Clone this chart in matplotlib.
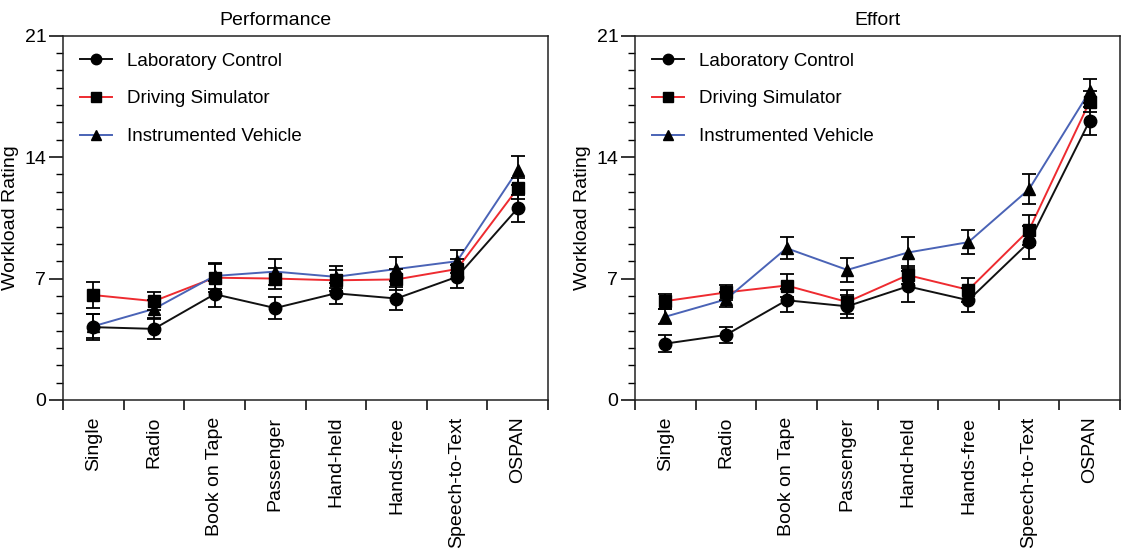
import matplotlib
matplotlib.use("Agg")
import matplotlib.pyplot as plt
import numpy as np

plt.rcParams['font.family'] = ['Liberation Sans', 'DejaVu Sans']

categories = ["Single", "Radio", "Book on Tape", "Passenger", "Hand-held",
              "Hands-free", "Speech-to-Text", "OSPAN"]
series_names = ["Laboratory Control", "Driving Simulator", "Instrumented Vehicle"]

# Performance panel
perf_lab = [4.2, 4.1, 6.1, 5.3, 6.15, 5.85, 7.1, 11.05]
perf_lab_err = [0.77, 0.58, 0.75, 0.63, 0.6, 0.67, 0.67, 0.77]
perf_sim = [6.05, 5.7, 7.05, 7.0, 6.9, 6.95, 7.55, 12.2]
perf_sim_err = [0.73, 0.5, 0.8, 0.63, 0.6, 0.6, 0.6, 0.6]
perf_veh = [4.25, 5.25, 7.15, 7.4, 7.1, 7.55, 8.0, 13.25]
perf_veh_err = [0.7, 0.5, 0.75, 0.75, 0.65, 0.67, 0.67, 0.83]

# Effort panel
eff_lab = [3.25, 3.75, 5.75, 5.4, 6.55, 5.75, 9.1, 16.1]
eff_lab_err = [0.48, 0.45, 0.65, 0.65, 0.9, 0.7, 0.95, 0.8]
eff_sim = [5.7, 6.2, 6.6, 5.65, 7.2, 6.35, 9.8, 17.2]
eff_sim_err = [0.43, 0.45, 0.67, 0.7, 0.5, 0.7, 0.87, 0.6]
eff_veh = [4.8, 5.8, 8.75, 7.5, 8.5, 9.1, 12.15, 17.8]
eff_veh_err = [0.42, 0.45, 0.65, 0.7, 0.9, 0.7, 0.88, 0.7]

titles = ["Performance", "Effort"]
title_x = [0.437, 0.5]
ylabel = "Workload Rating"
yticks = [0, 7, 14, 21]

line_colors = ["#111111", "#ee2b30", "#4a63b6"]
markers = ["o", "s", "^"]
msizes = [9, 8, 8.5]

fig = plt.figure(figsize=(11.23, 5.53), dpi=100)
ax_pos = [[63 / 1123, 1 - 400 / 553, 485 / 1123, 364.3 / 553],
          [635 / 1123, 1 - 400 / 553, 485 / 1123, 364.3 / 553]]

panels = [
    [(perf_lab, perf_lab_err), (perf_sim, perf_sim_err), (perf_veh, perf_veh_err)],
    [(eff_lab, eff_lab_err), (eff_sim, eff_sim_err), (eff_veh, eff_veh_err)],
]

x = np.arange(len(categories)) + 0.5
for p, (pos, data, title) in enumerate(zip(ax_pos, panels, titles)):
    ax = fig.add_axes(pos)
    for i, ((vals, errs), name) in enumerate(zip(data, series_names)):
        ax.errorbar(x, vals, yerr=errs, fmt='none', ecolor='black',
                    elinewidth=1.3, capsize=5, capthick=1.3, zorder=3)
        ax.plot(x, vals, color=line_colors[i], lw=1.4, zorder=2)
        ax.plot(x, vals, linestyle='none', marker=markers[i], ms=msizes[i],
                color='black', zorder=4)
        ax.plot([], [], color=line_colors[i], lw=1.4, marker=markers[i],
                ms=7.5, mfc='black', mec='black', label=name)
    ax.set_xlim(0, len(categories))
    ax.set_ylim(0, 21)
    ax.set_yticks(yticks)
    ax.set_yticks(np.arange(0, 22, 1), minor=True)
    ax.set_xticks(np.arange(0, len(categories) + 1))
    ax.set_xticklabels([])
    ax.set_xticks(x, minor=True)
    ax.set_xticklabels(categories, minor=True, rotation=90, fontsize=14)
    ax.tick_params(axis='x', which='major', length=7, width=1.1, direction='out')
    ax.tick_params(axis='x', which='minor', length=0, pad=12)
    ax.tick_params(axis='y', which='major', length=10, width=1.1, labelsize=14, pad=2)
    ax.tick_params(axis='y', which='minor', length=5, width=1.0)
    for sp in ax.spines.values():
        sp.set_linewidth(1.1)
        sp.set_color('#222222')
    ax.set_title(title, fontsize=14, pad=8, x=title_x[p])
    ax.set_ylabel(ylabel, fontsize=14, labelpad=4)
    ax.legend(loc='upper left', frameon=False, fontsize=13.5, handlelength=1.7,
              handletextpad=0.8, labelspacing=1.1, borderaxespad=0.5,
              borderpad=0.4)

fig.savefig("out.png", dpi=100)
